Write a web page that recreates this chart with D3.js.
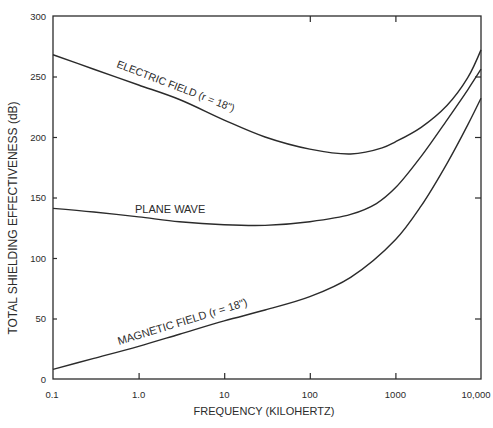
<!DOCTYPE html>
<html>
<head>
<meta charset="utf-8">
<title>Total shielding effectiveness</title>
<script src="https://cdn.jsdelivr.net/npm/d3@7"></script>
<style>
  body { margin: 0; background: #fff; }
  text { font-family: "Liberation Sans", Arial, sans-serif; fill: #2b2b2b; }
</style>
</head>
<body>
<div id="chart"></div>
<script>
// frequency in kHz, values in dB
var electricFreq  = [0.1, 0.3, 1, 3, 10, 30, 100, 300, 700, 1000, 2000, 4000, 7000, 10000];
var electricDb    = [268, 256, 243, 231, 214, 200, 190, 186, 191, 196, 208, 226, 249, 272];
var planeFreq     = [0.1, 0.3, 1, 3, 10, 30, 100, 300, 600, 1000, 2000, 4000, 7000, 10000];
var planeDb       = [141, 138, 134, 130, 127.5, 127, 130, 136, 145, 158, 184, 214, 239, 256];
var magneticFreq  = [0.1, 0.3, 1, 3, 10, 30, 100, 300, 1000, 2000, 4000, 7000, 10000];
var magneticDb    = [8, 17, 27, 37, 48, 57, 68, 84, 115, 143, 178, 210, 232];

var xTicks = [0.1, 1, 10, 100, 1000, 10000];
var xTickLabels = ["0.1", "1.0", "10", "100", "1000", "10,000"];
var yTicks = [0, 50, 100, 150, 200, 250, 300];

var width = 493, height = 428;
// plot box edges (don't call these top/left: window.top is read-only)
var plotL = 53, plotR = 481, plotT = 16, plotB = 379;
var ink = "#2b2b2b";

var svg = d3.select("#chart").append("svg")
  .attr("width", width)
  .attr("height", height);

var x = d3.scaleLog().domain([0.1, 10000]).range([plotL, plotR]);
var y = d3.scaleLinear().domain([0, 300]).range([plotB, plotT]);

// frame
svg.append("rect")
  .attr("x", plotL).attr("y", plotT)
  .attr("width", plotR - plotL).attr("height", plotB - plotT)
  .attr("fill", "none").attr("stroke", ink).attr("stroke-width", 1.3);

// inward ticks
var bottomAxis = d3.axisBottom(x).tickValues([1, 10, 100, 1000]).tickSizeInner(-6).tickSizeOuter(0).tickFormat("");
var topAxis = d3.axisTop(x).tickValues([100, 1000]).tickSizeInner(-6).tickSizeOuter(0).tickFormat("");
var leftAxis = d3.axisLeft(y).tickValues([50, 100, 150, 200, 250]).tickSizeInner(-4).tickSizeOuter(0).tickFormat("");
var rightAxis = d3.axisRight(y).tickValues([50, 150, 200, 250]).tickSizeInner(-6).tickSizeOuter(0).tickFormat("");

[[bottomAxis, "translate(0," + plotB + ")"], [topAxis, "translate(0," + plotT + ")"],
 [leftAxis, "translate(" + plotL + ",0)"], [rightAxis, "translate(" + plotR + ",0)"]].forEach(function(a) {
  var g = svg.append("g").attr("transform", a[1]).call(a[0]);
  g.select(".domain").remove();
  g.selectAll("line").attr("stroke", ink).attr("stroke-width", 1.2);
});

// tick labels (first and last nudged like the original)
var xNudge = [-1, 0, 0, 0, 0, -5];
svg.selectAll("text.xlab").data(xTicks).enter().append("text")
  .attr("class", "xlab")
  .attr("x", function(d, i) { return x(d) + xNudge[i]; })
  .attr("y", 398)
  .attr("text-anchor", "middle")
  .style("font-size", "9.5px")
  .text(function(d, i) { return xTickLabels[i]; });

svg.selectAll("text.ylab").data(yTicks).enter().append("text")
  .attr("class", "ylab")
  .attr("x", 46)
  .attr("y", function(d) { return y(d) + 3.5; })
  .attr("text-anchor", "end")
  .style("font-size", "9.5px")
  .text(function(d) { return d; });

// axis titles
svg.append("text")
  .attr("x", 264).attr("y", 415)
  .attr("text-anchor", "middle")
  .style("font-size", "11px")
  .text("FREQUENCY (KILOHERTZ)");

svg.append("text")
  .attr("transform", "translate(17,218) rotate(-90)")
  .attr("text-anchor", "middle")
  .style("font-size", "12px")
  .text("TOTAL SHIELDING EFFECTIVENESS (dB)");

// curves
var line = d3.line()
  .x(function(d) { return x(d[0]); })
  .y(function(d) { return y(d[1]); })
  .curve(d3.curveCatmullRom.alpha(0.5));

[[electricFreq, electricDb], [planeFreq, planeDb], [magneticFreq, magneticDb]].forEach(function(s) {
  svg.append("path")
    .datum(d3.zip(s[0], s[1]))
    .attr("d", line)
    .attr("fill", "none")
    .attr("stroke", ink)
    .attr("stroke-width", 1.4);
});

// curve labels
svg.append("text")
  .attr("transform", "translate(116,67) rotate(21)")
  .style("font-size", "10.5px")
  .text("ELECTRIC FIELD (r = 18\")");

svg.append("text")
  .attr("x", 135).attr("y", 213)
  .style("font-size", "11px")
  .text("PLANE WAVE");

svg.append("text")
  .attr("transform", "translate(119,345) rotate(-17)")
  .style("font-size", "11px")
  .text("MAGNETIC FIELD (r = 18\")");
</script>
</body>
</html>
